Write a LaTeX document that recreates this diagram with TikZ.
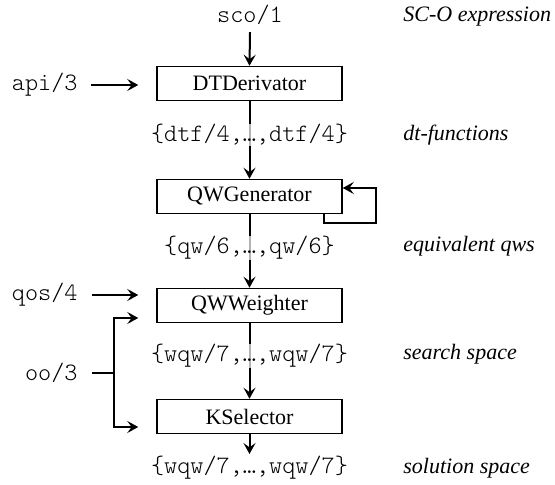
\documentclass[tikz,border=0pt]{standalone}
\usepackage{fontspec}
\setmainfont{Liberation Serif}
\setmonofont{Latin Modern Mono Light}
\usetikzlibrary{arrows.meta}
\begin{document}
\begin{tikzpicture}[x=0.5pt,y=-0.5pt,
  box/.style={draw, line width=0.75pt, minimum width=92.5pt, minimum height=17pt, inner sep=0pt, font=\fontsize{11}{13}\selectfont},
  code/.style={font=\ttfamily\fontsize{12.5}{14}\selectfont, inner sep=0pt},
  lbl/.style={font=\itshape\fontsize{11}{13}\selectfont, anchor=west, inner sep=0pt},
  arr/.style={line width=1pt, -{Stealth[length=5.5pt,width=6pt,inset=2.2pt]}},
  ln/.style={line width=1pt},
  veil/.style={fill=white, fill opacity=0.7, text opacity=1}
]
\useasboundingbox (0,0) rectangle (555,485);
% boxes
\node[box] (dt) at (249.5,83.5) {DTDerivator};
\node[box] (qg) at (249.5,196.5) {QWGenerator};
\node[box] (qw) at (249.5,305.5) {QWWeighter};
\node[box] (ks) at (249.5,416.5) {KSelector};
% inputs
\node[code] (sco) at (250,15) {sco/1};
\node[code, anchor=east] (api) at (78,85) {api/3};
\node[code, anchor=east] (qos) at (78,295) {qos/4};
\node[code, anchor=east] (oo) at (78,373) {oo/3};
\node[code] (sol) at (249.5,468) {\{wqw/7,…,wqw/7\}};
% connectors
\coordinate (j) at (114,373);
\coordinate (qwin) at ([yshift=-6.25pt]qw.west);
\coordinate (ksin) at ([yshift=-5.25pt]ks.west);
\draw[arr] ([yshift=-3.5pt]sco.south) -- (dt.north);
\draw[arr, shorten >=9pt] ([xshift=6.5pt]api.east) -- (api.east -| dt.west);
\draw[arr] (dt) -- (qg);
\draw[arr] ([xshift=-9.5pt]qg.south east) -- ++(0,9) -- ++(52,0) |- ([yshift=4.25pt]qg.east);
\draw[arr] (qg) -- (qw);
\draw[arr, shorten >=9pt] ([xshift=7pt]qos.east) -- (qos.east -| qw.west);
\draw[ln] ([xshift=7pt]oo.east) -- (j);
\draw[arr, shorten >=9pt] (j) |- (qwin);
\draw[arr, shorten >=9pt] (j) |- (ksin);
\draw[arr] (qw) -- (ks);
\draw[arr] (ks.south) -- ([yshift=1pt]sol.north);
% labels on lines
\node[code,veil] (dtf) at (249.5,135) {\{dtf/4,…,dtf/4\}};
\node[code,veil] (qwl) at (249.5,248) {\{qw/6,…,qw/6\}};
\node[code,veil] (wqw) at (249.5,356) {\{wqw/7,…,wqw/7\}};
% right-hand descriptions
\node[lbl] (d1) at (403,17) {SC-O expression};
\node[lbl] (d2) at (403,135) {dt-functions};
\node[lbl] (d3) at (403,246) {equivalent qws};
\node[lbl] (d4) at (403,354) {search space};
\node[lbl] (d5) at (403,468) {solution space};
\end{tikzpicture}
\end{document}
